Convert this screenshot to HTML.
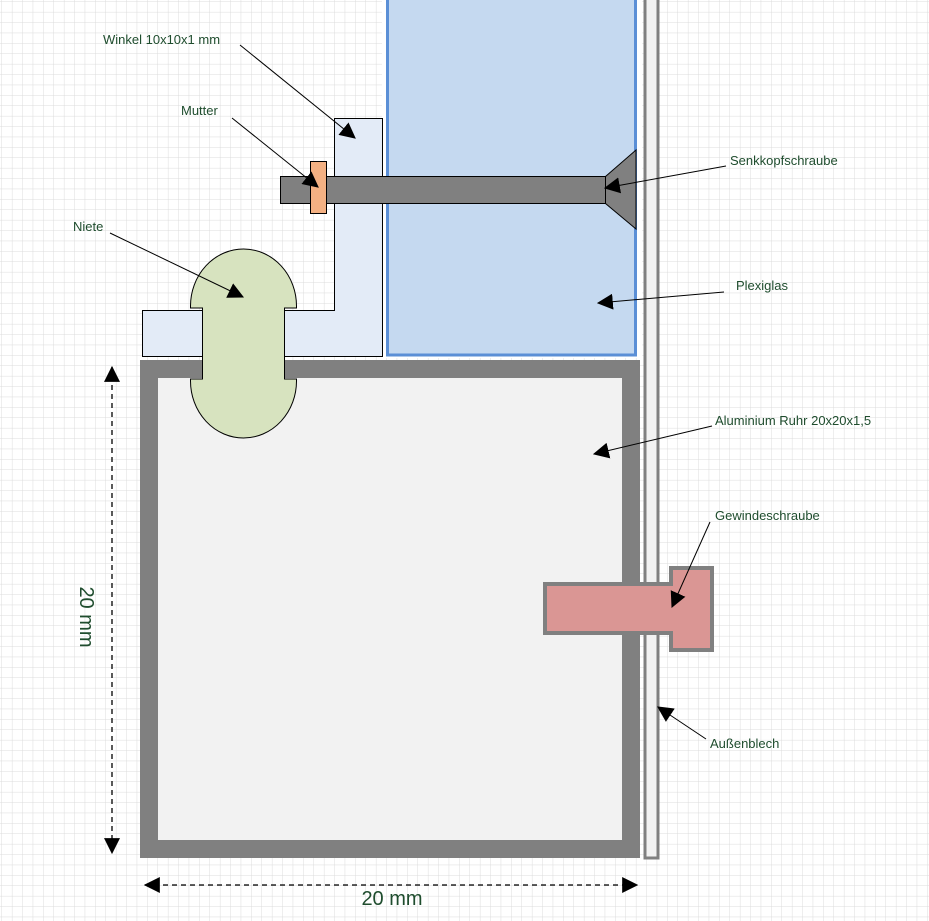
<!DOCTYPE html>
<html><head><meta charset="utf-8"><style>
html,body{margin:0;padding:0;background:#fff}
svg{display:block}
text{font-family:"Liberation Sans","DejaVu Sans",sans-serif;fill:#1f4d2e}
</style></head><body>
<svg width="929" height="921" viewBox="0 0 929 921" xmlns="http://www.w3.org/2000/svg">
<defs>
<pattern id="g" x="2" y="2" width="10.4" height="10.4" patternUnits="userSpaceOnUse">
<path d="M10.4 0V10.4M0 10.4H10.4" stroke="#dcdcdc" stroke-width="1" fill="none"/>
</pattern>
<marker id="a" markerWidth="10" markerHeight="10" refX="9" refY="5" orient="auto" markerUnits="userSpaceOnUse"><path d="M0,0 L10,5 L0,10 z" fill="#000"/></marker>
<marker id="b" viewBox="0 0 14 14" markerWidth="16" markerHeight="16" refX="13" refY="7" orient="auto" markerUnits="userSpaceOnUse"><path d="M0,0 L14,7 L0,14 z" fill="#000"/></marker>
<marker id="bs" viewBox="0 0 14 14" markerWidth="16" markerHeight="16" refX="1" refY="7" orient="auto" markerUnits="userSpaceOnUse"><path d="M14,0 L0,7 L14,14 z" fill="#000"/></marker>
</defs>
<rect width="929" height="921" fill="url(#g)"/>

<!-- Plexiglas -->
<rect x="382" y="-5" width="260" height="363" fill="#fff"/>
<rect x="387.5" y="-5" width="248" height="360" fill="#c5d9f0" stroke="#5b8fd6" stroke-width="3"/>

<!-- Außenblech -->
<rect x="645" y="-2" width="13" height="860" fill="#f2f2f2" stroke="#808080" stroke-width="3"/>

<!-- Tube -->
<rect x="149" y="369" width="482" height="480" fill="#f2f2f2" stroke="#808080" stroke-width="18"/>

<!-- Winkel -->
<path d="M334.5 118.5H382.5V356.5H142.5V310.5H334.5Z" fill="#e3ebf7" stroke="#000" stroke-width="1"/>

<!-- Bolt -->
<rect x="280.5" y="176.5" width="325" height="27" fill="#808080" stroke="#000" stroke-width="1"/>
<path d="M605.5 176.5L636 150V229L605.5 203.5Z" fill="#808080" stroke="#000" stroke-width="1"/>
<rect x="310.5" y="161.5" width="16" height="52" fill="#f4b183" stroke="#000" stroke-width="1"/>

<!-- Rivet -->
<path d="M190.5 306 A53 57 0 0 1 296.5 306 L296.5 308 H284.5 V379 H296.5 V381 A53 57 0 0 1 190.5 381 V379 H202.5 V308 H190.5Z" fill="#d7e3bf" stroke="#000" stroke-width="1"/>

<!-- Gewindeschraube -->
<path d="M545 584H671V568H712V650H671V633H545Z" fill="#da9694" stroke="#808080" stroke-width="4"/>

<!-- Dimensions -->
<line x1="112" y1="367" x2="112" y2="853" stroke="#000" stroke-width="1.3" stroke-dasharray="5,4" marker-start="url(#bs)" marker-end="url(#b)"/>
<line x1="145" y1="885" x2="637" y2="885" stroke="#000" stroke-width="1.3" stroke-dasharray="5,4" marker-start="url(#bs)" marker-end="url(#b)"/>
<text x="392" y="905" font-size="20" text-anchor="middle">20 mm</text>
<text transform="translate(80,617) rotate(90)" font-size="20" text-anchor="middle">20 mm</text>

<!-- Callouts -->
<g stroke="#000" stroke-width="1" fill="none">
<line x1="240" y1="45" x2="355" y2="138" marker-end="url(#b)"/>
<line x1="232" y1="118" x2="318" y2="187" marker-end="url(#b)"/>
<line x1="110" y1="233" x2="243" y2="297" marker-end="url(#b)"/>
<line x1="726" y1="166" x2="605" y2="188" marker-end="url(#b)"/>
<line x1="724" y1="292" x2="598" y2="303" marker-end="url(#b)"/>
<line x1="712" y1="426" x2="594" y2="454" marker-end="url(#b)"/>
<line x1="710" y1="522" x2="672" y2="607" marker-end="url(#b)"/>
<line x1="706" y1="739" x2="658" y2="707" marker-end="url(#b)"/>
</g>
<g font-size="13">
<text x="103" y="44">Winkel 10x10x1 mm</text>
<text x="181" y="115">Mutter</text>
<text x="73" y="231">Niete</text>
<text x="730" y="165">Senkkopfschraube</text>
<text x="736" y="290">Plexiglas</text>
<text x="715" y="425">Aluminium Ruhr 20x20x1,5</text>
<text x="715" y="520">Gewindeschraube</text>
<text x="710" y="748">Außenblech</text>
</g>
</svg>
</body></html>
